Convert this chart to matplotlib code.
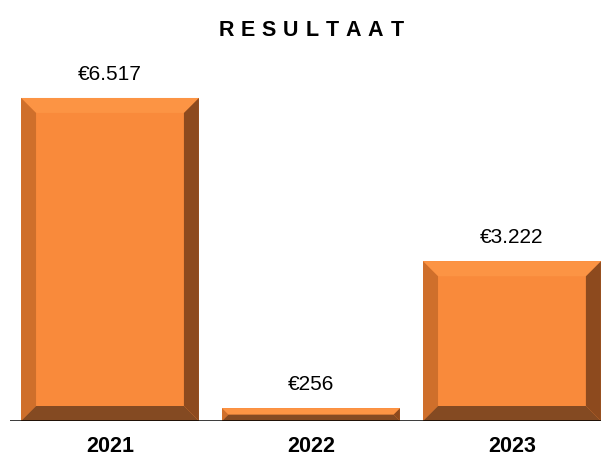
import matplotlib
matplotlib.use('Agg')
import matplotlib.pyplot as plt
from matplotlib.patches import Polygon

plt.rcParams['font.family'] = ['Liberation Sans', 'DejaVu Sans']

years = ['2021', '2022', '2023']
values = [6517, 256, 3222]
labels = ['€6.517', '€256', '€3.222']

face = '#f98a3b'
top_c = '#fc9444'
left_c = '#cf6f2b'
right_c = '#8d4a1e'
bottom_c = '#844a22'

fig = plt.figure(figsize=(6.01, 4.57), dpi=100)
# axes box in pixels: left 10, right 601, baseline at 421, top at 60
ax = fig.add_axes([10 / 601, 36 / 457, 591 / 601, 361 / 457])
ax.set_xlim(-0.4975, 2.443)
ax.set_ylim(0, 7283)
ax.axis('off')

bars = ax.bar(range(len(values)), values, width=0.885, color=face, zorder=2)

# bevel: about 15 px on each side
px_x = (2.443 + 0.4975) / 591
px_y = 7283 / 361
bev = 15
for b in bars:
    x0, y0 = b.get_x(), b.get_y()
    w, h = b.get_width(), b.get_height()
    x1, y1 = x0 + w, y0 + h
    d = min(bev, h / px_y / 2)
    dx, dy = d * px_x, d * px_y
    ix0, ix1, iy0, iy1 = x0 + dx, x1 - dx, y0 + dy, y1 - dy
    ax.add_patch(Polygon([(x0, y1), (x1, y1), (ix1, iy1), (ix0, iy1)], color=top_c, lw=0, zorder=3))
    ax.add_patch(Polygon([(x0, y0), (x0, y1), (ix0, iy1), (ix0, iy0)], color=left_c, lw=0, zorder=3))
    ax.add_patch(Polygon([(x1, y0), (x1, y1), (ix1, iy1), (ix1, iy0)], color=right_c, lw=0, zorder=3))
    ax.add_patch(Polygon([(x0, y0), (x1, y0), (ix1, iy0), (ix0, iy0)], color=bottom_c, lw=0, zorder=3))

for i, (v, t) in enumerate(zip(values, labels)):
    ax.annotate(t, (i, v), xytext=(0, 10), textcoords='offset points',
                ha='center', va='bottom', fontsize=15)
    # year labels sit on a baseline near the bottom edge
    ax.annotate(years[i], (i, 0), xytext=(0, -22), textcoords='offset points',
                ha='center', va='baseline', fontsize=15.5, fontweight='bold',
                annotation_clip=False)

ax.axhline(0, color='black', lw=1.8, zorder=4)

# title with letter spacing, spans about 185 px
title = 'RESULTAAT'
renderer = fig.canvas.get_renderer()
widths = []
for ch in title:
    t = fig.text(0, 0, ch, fontsize=15.5, fontweight='bold')
    widths.append(t.get_window_extent(renderer).width)
    t.remove()
total = 185
spacing = (total - sum(widths)) / (len(title) - 1)
x = 311 - total / 2
for ch, w in zip(title, widths):
    fig.text(x / 601, 1 - 31 / 457, ch, fontsize=15.5, fontweight='bold', va='center', ha='left')
    x += w + spacing

fig.savefig('out.png', dpi=100)
